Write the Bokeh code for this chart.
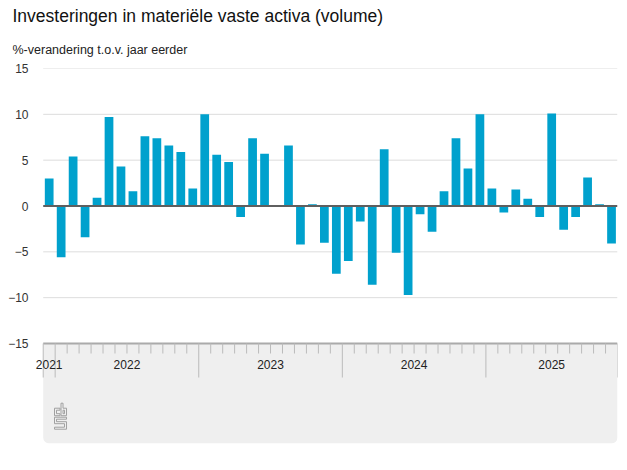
from bokeh.plotting import figure
from bokeh.models import (FixedTicker, BoxAnnotation, Title, Range1d,
                          ColumnDataSource, LabelSet)
from bokeh.core.properties import value
from bokeh.embed import file_html
from bokeh.resources import INLINE

# ---- data -------------------------------------------------------------
months = ["2021-12"] + [f"{y}-{m:02d}" for y in (2022, 2023, 2024) for m in range(1, 13)] \
         + [f"2025-{m:02d}" for m in range(1, 12)]
values = [3.0, -5.6, 5.4, -3.4, 0.9, 9.7, 4.3, 1.6, 7.6, 7.4, 6.6, 5.9,
          1.9, 10.0, 5.6, 4.8, -1.2, 7.4, 5.7, 0.0, 6.6, -4.2, 0.2, -4.0,
          -7.4, -6.0, -1.7, -8.6, 6.2, -5.1, -9.7, -0.9, -2.8, 1.6, 7.4, 4.1,
          10.0, 1.9, -0.7, 1.8, 0.8, -1.2, 10.1, -2.6, -1.2, 3.1, 0.2, -4.1]
y_ticks = [-15, -10, -5, 0, 5, 10, 15]
title_text = "Investeringen in materiële vaste activa (volume)"
subtitle_text = "%-verandering t.o.v. jaar eerder"

FONT = "Liberation Sans"
BLUE = "#00a1cd"

n = len(months)
xs = [i + 0.5 for i in range(n)]
years = [m[:4] for m in months]

# geometry helpers (bar area: 574 px wide; 30 y-units over 275 px)
PX_PER_Y = 275.0 / 30.0
PX_PER_X = 574.0 / n
band_px = 100.0
y_bottom = -15 - band_px / PX_PER_Y
x_start = -12.7 / PX_PER_X          # small margin left of the bar area for labels

p = figure(width=619, height=462, output_backend="svg", toolbar_location=None,
           x_range=Range1d(x_start, n), y_range=Range1d(y_bottom, 15),
           x_axis_location=None,
           min_border_left=30, min_border_right=2, min_border_top=0,
           min_border_bottom=19, title=None)
p.outline_line_color = None
p.background_fill_color = "white"
p.border_fill_color = "white"

# titles (inner first)
sub = Title(text=subtitle_text, text_font=FONT, text_font_size="12.5px",
            text_font_style="normal", text_color="#222222", align="left",
            offset=-18, standoff=23)
p.add_layout(sub, "above")
main = Title(text=title_text, text_font=FONT, text_font_size="17.5px",
             text_font_style="normal", text_color="#111111", align="left",
             offset=-18, standoff=7)
p.add_layout(main, "above")

# y axis
p.yaxis.ticker = FixedTicker(ticks=y_ticks)
p.yaxis.axis_line_color = None
p.yaxis.major_tick_line_color = None
p.yaxis.minor_tick_line_color = None
p.yaxis.major_tick_out = 0
p.yaxis.major_tick_in = 0
p.yaxis.minor_tick_out = 0
p.yaxis.major_label_text_font = FONT
p.yaxis.major_label_text_font_size = "12px"
p.yaxis.major_label_text_color = "#333333"
p.yaxis.major_label_standoff = 2

p.xgrid.visible = False
p.ygrid.visible = False

# horizontal grid lines over the bar area
gl = [t for t in y_ticks if t not in (0, -15)]
p.segment(x0=[0] * len(gl), y0=gl, x1=[n] * len(gl), y1=gl,
          line_color="#dddddd", line_width=1, level="underlay")

# gray axis band
band = BoxAnnotation(left=0, right=n, top=-15, bottom=y_bottom,
                     fill_color="#efefef", fill_alpha=1, line_color=None,
                     border_radius=(0, 0, 6, 6), level="underlay")
p.add_layout(band)

# bars
src = ColumnDataSource(dict(x=xs, top=values))
p.vbar(x="x", top="top", bottom=0, width=0.73, source=src,
       fill_color=BLUE, line_color=None)

# zero line and band top line
p.segment(x0=[0], y0=[0], x1=[n], y1=[0], line_color="#5f5f5f", line_width=2)
p.segment(x0=[0], y0=[-15], x1=[n], y1=[-15], line_color="#aaaaaa", line_width=2)

# month ticks
bounds = list(range(n + 1))
major = [b for b in bounds if b == 0 or b == n or months[b][5:] == "01"]
minor = [b for b in bounds if b not in major]
minor_len = 10 / PX_PER_Y
major_len = 34 / PX_PER_Y
p.segment(x0=minor, y0=[-15] * len(minor), x1=minor, y1=[-15 - minor_len] * len(minor),
          line_color="#bbbbbb", line_width=1)
p.segment(x0=major, y0=[-15] * len(major), x1=major, y1=[-15 - major_len] * len(major),
          line_color="#bbbbbb", line_width=1)

# year labels centred on each year's span
uniq = []
for y in years:
    if y not in uniq:
        uniq.append(y)
lab_x = []
for y in uniq:
    idx = [i for i, yy in enumerate(years) if yy == y]
    lab_x.append((idx[0] + idx[-1] + 1) / 2)
lab_y = [-15 - 20.5 / PX_PER_Y] * len(uniq)
lab_src = ColumnDataSource(dict(x=lab_x, y=lab_y, text=uniq))
p.add_layout(LabelSet(x="x", y="y", text="text", source=lab_src,
                      text_font=value(FONT), text_font_size=value("12px"),
                      text_color="#222222",
                      text_align="center", text_baseline="middle"))

# CBS logo (decoration), specified in pixel offsets within band
def dx(px):
    return (px - 42.7) / PX_PER_X

def dy(py):
    return -15 - (py - 343.3) / PX_PER_Y

logo_px = [
    # c
    [(59.5, 408), (54, 408), (54, 415.5), (59.5, 415.5), (59.5, 413.5),
     (56, 413.5), (56, 410), (59.5, 410), (59.5, 408)],
    # b
    [(60.5, 403), (60.5, 415.5), (66, 415.5), (66, 408), (62.5, 408),
     (62.5, 403), (60.5, 403)],
    [(62.5, 410), (64, 410), (64, 413.5), (62.5, 413.5), (62.5, 410)],
    # s
    [(66, 417), (54, 417), (54, 423.5), (64, 423.5), (64, 427), (54, 427),
     (54, 429), (66, 429), (66, 421.5), (56, 421.5), (56, 419), (66, 419), (66, 417)],
]
p.multi_line(xs=[[dx(a) for a, b in path] for path in logo_px],
             ys=[[dy(b) for a, b in path] for path in logo_px],
             line_color="#a0a0a0", line_width=1)

open("out.html", "w").write(file_html(p, INLINE))
